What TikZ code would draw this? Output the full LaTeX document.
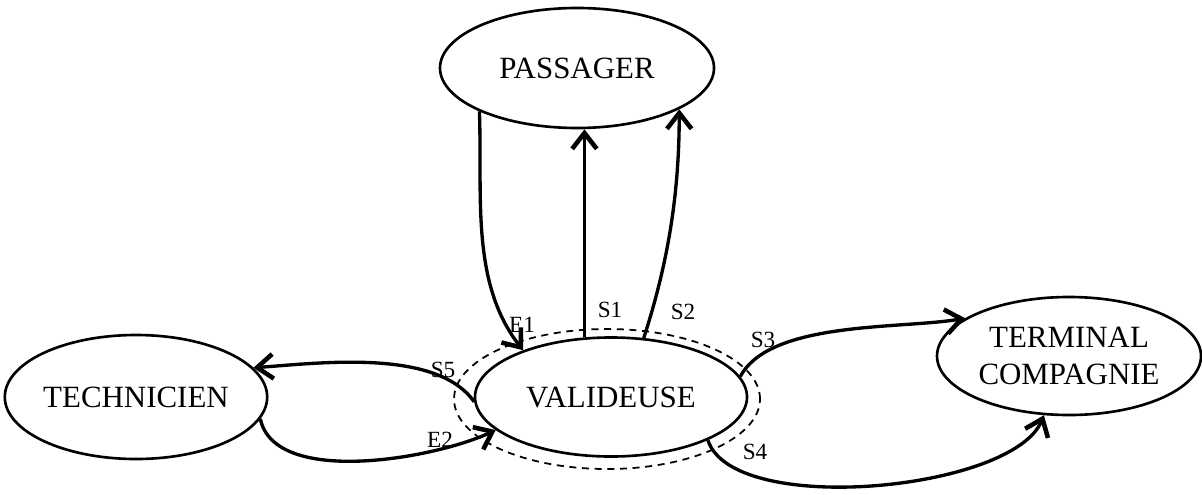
\documentclass[tikz,border=0pt]{standalone}
\usepackage{fontspec}
\setmainfont{Liberation Serif}
\usetikzlibrary{shapes.geometric,arrows.meta}

\begin{document}
\begin{tikzpicture}[
  acteur/.style={ellipse,draw,line width=.75pt,inner sep=0pt,align=center,font=\fontsize{8.8}{10.5}\selectfont},
  flux/.style={line width=.95pt,-{Straight Barb[length=4.5pt,width=7pt,line width=1.3pt]}},
  lbl/.style={font=\fontsize{6.6}{7}\selectfont,inner sep=0pt}]
\useasboundingbox (0,0) rectangle (12.02,-4.94);

\node[acteur,minimum width=2.74cm,minimum height=1.2cm] (passager) at (5.77,-0.68) {PASSAGER};
\node[acteur,minimum width=2.72cm,minimum height=1.19cm] (valid) at (6.11,-3.97) {VALIDEUSE};
\node[acteur,minimum width=2.62cm,minimum height=1.24cm] (tech) at (1.36,-3.97) {TECHNICIEN};
\node[acteur,minimum width=2.64cm,minimum height=1.18cm] (term) at (10.69,-3.56) {TERMINAL\\COMPAGNIE};

% contour de la valideuse
\draw[line width=.5pt,dash pattern=on 2pt off 1.6pt] (6.07,-3.99) ellipse (1.53 and .7);

\draw[flux] (passager.204) to[out=-88,in=128,looseness=.9] (valid.152);
\draw[flux,line width=.65pt] (valid.114) -- (valid.114 |- passager.south);
\draw[flux] (valid.61) to[out=72,in=-90,looseness=.9] (passager.338);
\draw[flux] (valid.9) to[out=62,in=190,looseness=.7] (term.160);
\draw[flux] (valid.336) to[out=-72,in=-112,looseness=.62] (term.247);
\draw[flux] (valid.182) to[out=125,in=4,looseness=.75] (tech.14);
\draw[flux] (tech.350) to[out=-78,in=205,looseness=.75] (valid.196);

\node[lbl] (e1) at (5.22,-3.25) {E1};
\node[lbl] (s1) at (6.10,-3.10) {S1};
\node[lbl] (s2) at (6.83,-3.12) {S2};
\node[lbl] (s3) at (7.63,-3.40) {S3};
\node[lbl] (s4) at (7.55,-4.52) {S4};
\node[lbl] (s5) at (4.43,-3.70) {S5};
\node[lbl] (e2) at (4.40,-4.40) {E2};
\end{tikzpicture}
\end{document}
